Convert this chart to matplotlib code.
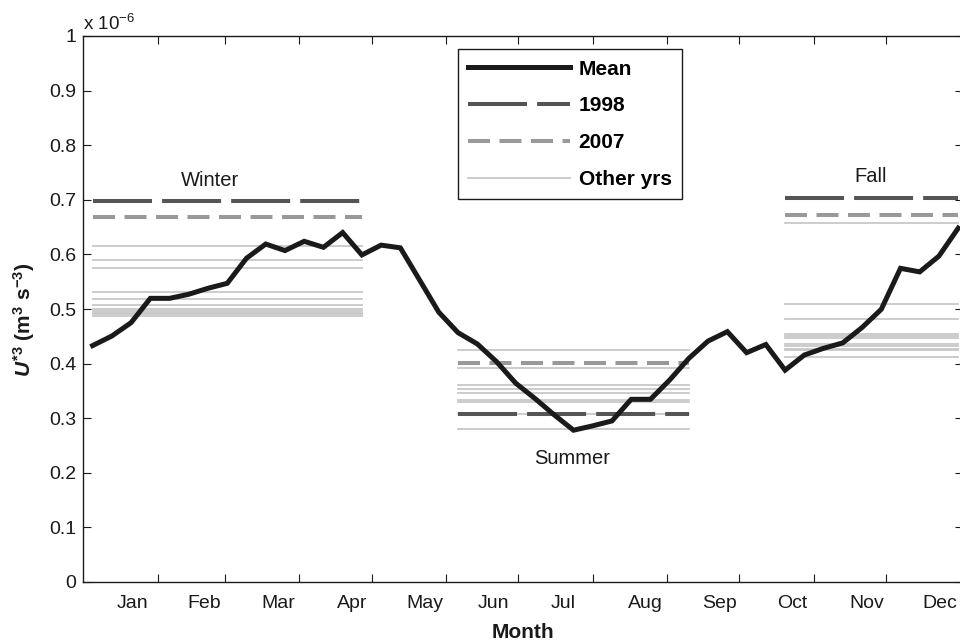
import matplotlib
matplotlib.use('Agg')
import matplotlib.pyplot as plt
import numpy as np

plt.rcParams['font.family'] = ['Liberation Sans', 'DejaVu Sans']
plt.rcParams['mathtext.fontset'] = 'custom'
plt.rcParams['mathtext.rm'] = 'Liberation Sans'
plt.rcParams['mathtext.it'] = 'Liberation Sans:italic:bold'
plt.rcParams['mathtext.bf'] = 'Liberation Sans:bold'

# ---- data (values in units of 1e-6 m^3 s^-3) ----
# 8-day composite periods (46 per year); x = day of year of period centre
period_day = 4 + 8 * np.arange(46)
mean_u3 = [0.433, 0.4505, 0.475, 0.5195, 0.5195, 0.527, 0.538, 0.547, 0.593, 0.619,
           0.607, 0.624, 0.613, 0.640, 0.599, 0.617, 0.612, 0.553, 0.494, 0.4566,
           0.436, 0.4035, 0.364, 0.336, 0.306, 0.278, 0.286, 0.295, 0.3346, 0.3346,
           0.370, 0.4097, 0.4414, 0.4585, 0.420, 0.435, 0.388, 0.4157, 0.428, 0.438,
           0.466, 0.4994, 0.5745, 0.568, 0.597, 0.648]

season_names = ['Winter', 'Summer', 'Fall']
season_first_period = [0, 19, 36]
season_last_period = [14, 31, 45]
season_1998 = [0.697, 0.307, 0.703]
season_2007 = [0.668, 0.4005, 0.673]
winter_other = [0.616, 0.589, 0.575, 0.531, 0.518, 0.507, 0.500, 0.496, 0.493, 0.490, 0.487]
summer_other = [0.425, 0.3925, 0.361, 0.3535, 0.347, 0.333, 0.329, 0.308, 0.280]
fall_other = [0.657, 0.509, 0.482, 0.455, 0.451, 0.446, 0.435, 0.432, 0.427, 0.424, 0.413]
season_other = [winter_other, summer_other, fall_other]
season_label_pos = [(52.7, 0.735), (203.3, 0.227), (327.7, 0.742)]

month_names = ['Jan', 'Feb', 'Mar', 'Apr', 'May', 'Jun', 'Jul', 'Aug', 'Sep', 'Oct', 'Nov', 'Dec']
month_label_day = [20.7, 50.3, 81.1, 111.9, 142.2, 170.5, 199.6, 234.1, 264.9, 294.8, 326.0, 356.3]
month_boundary_day = [31, 59, 90, 120, 151, 181, 212, 243, 273, 304, 334]
y_ticks = [0, 0.1, 0.2, 0.3, 0.4, 0.5, 0.6, 0.7, 0.8, 0.9, 1.0]

# ---- figure ----
fig = plt.figure(figsize=(9.6, 6.44), dpi=100)
ax = fig.add_axes([83 / 960, 62 / 644, 880 / 960, 546 / 644])

c_mean = '#1a1a1a'
c_98 = '#555555'
c_07 = '#999999'
c_oth = '#c8c8c8'

for k in range(3):
    x0 = period_day[season_first_period[k]]
    x1 = period_day[season_last_period[k]]
    for j, v in enumerate(season_other[k]):
        ax.plot([x0, x1], [v, v], color=c_oth, lw=1.3, zorder=2,
                label='Other yrs' if (k == 0 and j == 0) else None)
for k in range(3):
    x0 = period_day[season_first_period[k]]
    x1 = period_day[season_last_period[k]]
    ax.plot([x0, x1], [season_2007[k]] * 2, color=c_07, lw=2.9, dashes=(5.46, 2.36),
            solid_capstyle='butt', dash_capstyle='butt', zorder=3,
            label='2007' if k == 0 else None)
    ax.plot([x0, x1], [season_1998[k]] * 2, color=c_98, lw=2.9, dashes=(14.65, 2.5),
            solid_capstyle='butt', dash_capstyle='butt', zorder=4,
            label='1998' if k == 0 else None)
    ax.text(season_label_pos[k][0], season_label_pos[k][1], season_names[k],
            ha='center', va='center', fontsize=14.5, color='#1a1a1a')

ax.plot(period_day, mean_u3, color=c_mean, lw=3.6, zorder=5, label='Mean',
        solid_joinstyle='miter')

ax.set_xlim(0, 366)
ax.set_ylim(0, 1)

ax.set_xticks(month_boundary_day)
ax.set_xticklabels([])
ax.set_xticks(month_label_day, minor=True)
ax.set_xticklabels(month_names, minor=True)
ax.set_yticks(y_ticks)
ax.set_yticklabels([f'{v:g}' for v in y_ticks])

ax.tick_params(which='major', direction='in', length=6, width=0.8,
               top=True, right=True, labelsize=14, pad=5, colors='#1a1a1a')
ax.tick_params(axis='x', which='minor', length=0, pad=9, labelsize=14, colors='#1a1a1a')
for s in ax.spines.values():
    s.set_linewidth(1.0)
    s.set_color('#1a1a1a')

ax.set_xlabel('Month', fontsize=15, fontweight='bold', labelpad=8, color='#1a1a1a')
ax.set_ylabel(r'$\mathit{U}^{\mathbf{*3}}\ \mathbf{(m^{3}\ s^{-3})}$', fontsize=15,
              color='#1a1a1a')
ax.yaxis.set_label_coords(-0.052, 0.48)
ax.text(0, 1.004, r'x 10$^{-6}$', transform=ax.transAxes, ha='left', va='bottom',
        fontsize=13.5, color='#1a1a1a')

h, l = ax.get_legend_handles_labels()
order = ['Mean', '1998', '2007', 'Other yrs']
hd = dict(zip(l, h))
leg = ax.legend([hd[o] for o in order], order, loc='upper left',
                bbox_to_anchor=(0.426, 0.9756), borderaxespad=0, fancybox=False,
                framealpha=1, edgecolor='#1a1a1a', handlelength=4.9,
                handletextpad=0.4, labelspacing=0.85, borderpad=0.5,
                prop={'weight': 'bold', 'size': 15})
leg.get_frame().set_linewidth(1.0)

fig.savefig('out.png', dpi=100)
